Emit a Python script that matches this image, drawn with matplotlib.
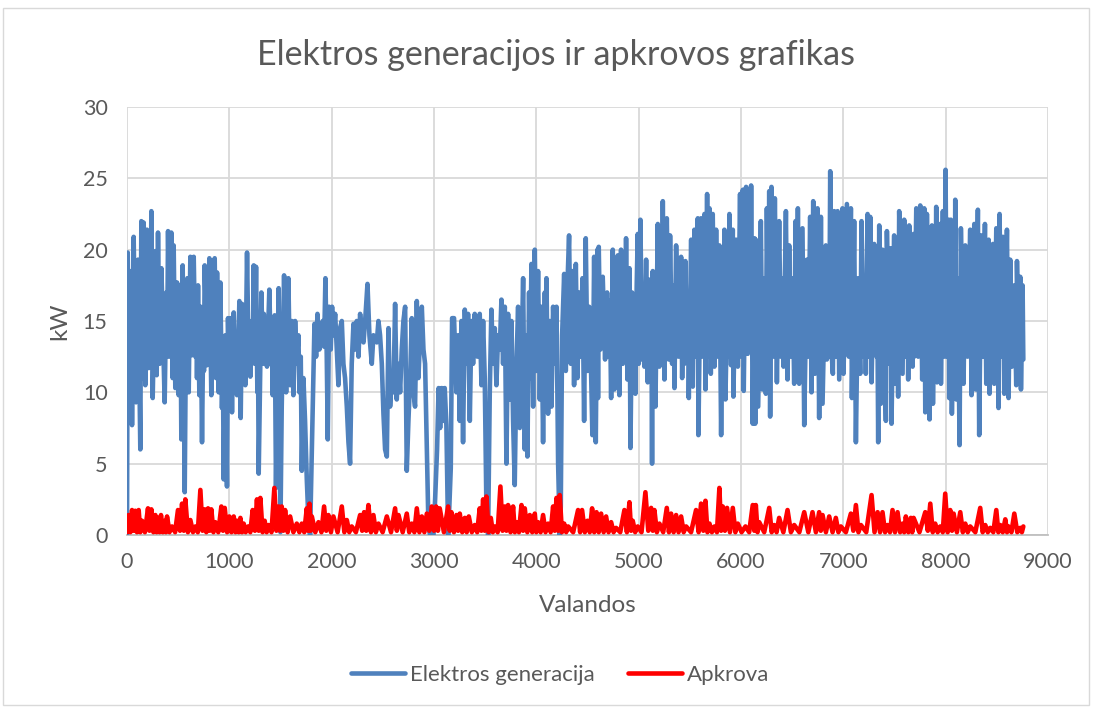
import matplotlib
matplotlib.use("Agg")
import matplotlib.pyplot as plt
from matplotlib.patches import Rectangle

# hourly generation (kW), peaks and troughs
gen_hours = [
    0, 7, 23, 39, 49, 65, 88, 107, 130, 140, 153, 163, 179, 195, 212, 228, 238, 251, 277, 290,
    303, 319, 336, 368, 384, 392, 401, 417, 433, 446, 456, 472, 489, 505, 521, 531, 544, 564, 577, 581,
    590, 603, 619, 635, 652, 668, 676, 684, 694, 707, 720, 733, 746, 752, 759, 782, 805, 824, 840, 848,
    857, 870, 880, 896, 912, 928, 937, 945, 961, 977, 987, 1000, 1010, 1026, 1043, 1059, 1067, 1075, 1091, 1098,
    1111, 1124, 1140, 1148, 1156, 1173, 1189, 1197, 1205, 1222, 1230, 1238, 1248, 1261, 1274, 1280, 1287, 1313, 1329, 1337,
    1345, 1358, 1368, 1391, 1407, 1415, 1424, 1433, 1443, 1456, 1469, 1482, 1499,
    1512, 1535, 1555, 1577, 1594, 1610, 1626, 1643, 1659, 1675, 1685, 1698, 1708, 1724, 1740, 1757, 1773, 1789, 1806, 1822,
    1832, 1848, 1861, 1880, 1893, 1913, 1926, 1939, 1952, 1962, 1975, 1991, 2004, 2017, 2034, 2050, 2066, 2082, 2099, 2115,
    2131, 2148, 2164, 2180, 2196, 2213, 2229, 2245, 2262, 2278, 2294, 2311, 2327, 2350, 2369, 2392, 2408, 2441, 2457, 2473,
    2490, 2506, 2522, 2539, 2555, 2571, 2587, 2604, 2620, 2636, 2653, 2669, 2685, 2701, 2718, 2734, 2750, 2767, 2783, 2799,
    2815, 2832, 2848, 2864, 2881, 2897, 2913, 2930, 2946, 2962, 2995, 3011, 3030, 3045, 3060, 3075, 3090, 3105, 3121, 3138,
    3150, 3164, 3177, 3196, 3219, 3235, 3252, 3268, 3284, 3301, 3317, 3333, 3350, 3366, 3382, 3398, 3424, 3447, 3464, 3480,
    3496, 3512, 3529, 3545, 3561, 3578, 3594, 3610, 3626, 3643, 3659, 3675, 3692, 3708, 3724, 3740, 3757, 3773, 3789, 3806,
    3822, 3838, 3855, 3871, 3887, 3903, 3913, 3929, 3940, 3952, 3969, 3985, 4001, 4017, 4034, 4050, 4066, 4083, 4091, 4099,
    4115, 4131, 4148, 4164, 4180, 4197, 4213, 4229, 4239, 4252, 4272, 4288, 4304, 4320, 4337, 4353, 4369, 4386, 4402, 4418,
    4434, 4451, 4467, 4483, 4500, 4516, 4532, 4548, 4565, 4581, 4597, 4603,
    4610, 4626, 4649, 4672, 4692, 4705, 4718, 4731, 4747, 4763, 4779, 4786, 4796, 4812, 4828, 4845, 4861, 4867, 4877, 4890,
    4910, 4920, 4936, 4952, 4962, 4968, 4981, 4991, 5001, 5017, 5034, 5043, 5056, 5073, 5089, 5105, 5118, 5125, 5131, 5138,
    5151, 5157, 5164, 5187, 5203, 5219, 5226, 5236, 5252, 5275, 5294, 5307, 5327, 5340, 5350, 5366, 5389, 5415, 5425, 5438,
    5447, 5457, 5470, 5480, 5490, 5513, 5529, 5545, 5561, 5578, 5584, 5610, 5627, 5643, 5653, 5669, 5679, 5692, 5705, 5724,
    5741, 5757, 5773, 5789, 5806, 5822, 5832, 5838, 5848, 5871, 5881, 5887, 5903, 5920, 5926, 5952, 5969, 5991, 6004, 6018,
    6027, 6050, 6066, 6083, 6089, 6099, 6115, 6132,
    6139, 6145, 6168, 6194, 6210, 6227, 6243, 6253, 6266, 6276, 6285, 6298, 6315, 6331, 6351, 6373, 6390, 6406, 6416, 6439,
    6455, 6471, 6487, 6504, 6520, 6533, 6546, 6556, 6569, 6601, 6618, 6644, 6660, 6676, 6689, 6706, 6722, 6748, 6764, 6781,
    6797, 6829, 6839, 6852, 6862, 6872, 6888, 6898, 6911, 6927, 6944, 6960, 6992, 7002, 7035, 7054, 7074, 7084, 7106, 7123,
    7145, 7165, 7178, 7198, 7211, 7220, 7237, 7250, 7263, 7276, 7302, 7325, 7331, 7341, 7351, 7367, 7383, 7416, 7426, 7448,
    7465, 7471, 7497, 7504, 7523, 7536, 7546, 7579, 7595, 7611, 7628, 7634, 7644, 7677, 7686,
    7693, 7713, 7732, 7752, 7771, 7791, 7801, 7817, 7833, 7843, 7866, 7876, 7889, 7898, 7908, 7915, 7931, 7941, 7947, 7954,
    7973, 7986, 7999, 8012, 8029, 8035, 8051, 8061, 8078, 8087, 8094, 8104, 8120, 8136, 8149, 8175, 8192, 8214, 8240, 8253,
    8280, 8293, 8315, 8328, 8348, 8364, 8384, 8397, 8420, 8429, 8462, 8475, 8495, 8517, 8527, 8543, 8560, 8573, 8599, 8615,
    8631, 8648, 8671, 8690, 8697, 8713, 8729, 8736, 8752, 8759,
]
gen_kw = [
    0.0, 19.8, 9.0, 18.5, 7.7, 20.9, 9.3, 19.3, 6.0, 22.0, 11.0, 21.9, 10.5, 21.4, 11.7, 13.0, 22.7, 9.6, 19.9, 11.2,
    21.2, 12.0, 18.7, 9.3, 17.0, 12.5, 21.3, 12.5, 21.2, 11.0, 20.3, 10.3, 17.7, 9.8, 17.5, 6.7, 18.9, 3.0, 15.0, 11.0,
    18.0, 10.0, 19.5, 12.6, 19.5, 12.5, 17.0, 11.0, 17.5, 9.8, 16.0, 6.5, 15.0, 11.5, 18.9, 11.9, 19.4, 9.8, 17.0, 12.0,
    19.4, 11.0, 18.4, 10.0, 17.7, 8.9, 12.0, 3.9, 14.0, 3.4, 15.2, 10.0, 15.2, 8.6, 15.6, 11.0, 14.0, 9.8, 14.0, 16.4,
    8.2, 16.2, 11.5, 15.0, 10.5, 19.8, 12.0, 15.0, 11.1, 15.0, 12.5, 18.9, 12.0, 18.8, 10.0, 13.0, 4.3, 17.0, 12.0, 15.5,
    12.6, 15.0, 11.8, 17.2, 12.0, 14.0, 9.8, 14.0, 15.4, 3.3, 11.0, 17.3, 0.2,
    9.0, 18.2, 10.0, 18.0, 10.5, 15.0, 9.8, 15.0, 12.0, 14.0, 10.0, 12.5, 4.5, 11.0, 8.0, 3.9, 1.0, 0.0, 6.0, 12.0,
    14.8, 12.5, 15.5, 13.0, 14.5, 15.0, 13.2, 18.0, 12.5, 6.7, 16.0, 13.0, 16.0, 14.0, 15.5, 13.0, 10.5, 14.5, 15.0, 12.0,
    11.0, 9.0, 6.5, 5.0, 12.0, 14.8, 13.0, 15.0, 12.5, 15.5, 14.0, 13.5, 15.0, 17.6, 14.0, 12.0, 14.0, 13.5, 15.0, 14.0,
    12.0, 8.5, 6.0, 5.5, 14.5, 9.0, 11.0, 10.0, 16.2, 9.5, 12.0, 10.0, 13.0, 15.0, 16.0, 4.5, 8.0, 11.0, 15.2, 10.0,
    9.0, 16.4, 11.0, 14.0, 16.0, 13.0, 12.0, 6.0, 0.5, 0.0, 0.0, 2.5, 6.0, 10.3, 7.5, 10.3, 8.0, 10.3, 7.7, 0.0,
    2.0, 4.7, 15.2, 15.2, 10.0, 14.0, 8.0, 15.0, 6.5, 15.8, 12.0, 15.5, 8.0, 15.0, 12.0, 15.5, 12.5, 15.5, 10.5, 15.0,
    11.0, 2.0, 0.0, 10.0, 15.8, 12.0, 14.5, 10.5, 14.0, 13.0, 16.5, 12.0, 16.0, 5.0, 15.5, 9.5, 15.0, 8.0, 3.5, 12.0,
    16.0, 7.5, 12.0, 18.0, 6.0, 14.0, 5.5, 17.0, 11.0, 19.0, 9.0, 20.0, 11.5, 18.5, 9.5, 16.0, 6.5, 17.0, 12.0, 18.0,
    8.5, 15.0, 9.0, 16.0, 12.0, 16.0, 5.0, 0.0, 2.0, 14.0, 18.3, 11.5, 17.5, 21.0, 12.0, 18.5, 10.5, 19.0, 11.0, 17.0,
    12.5, 18.0, 8.0, 20.8, 11.5, 16.0, 12.5, 7.0, 19.5, 6.5, 20.0, 9.6,
    20.2, 13.0, 18.1, 12.3, 17.0, 12.5, 16.4, 9.6, 20.0, 10.2, 18.0, 12.5, 19.6, 9.8, 20.0, 12.0, 17.5, 12.5, 20.8, 10.9,
    18.7, 6.1, 17.0, 12.0, 16.5, 9.9, 17.5, 21.1, 12.0, 22.1, 12.3, 16.5, 11.8, 19.3, 10.7, 17.9, 12.0, 15.0, 5.0, 18.5,
    12.0, 16.0, 9.0, 21.8, 11.8, 18.0, 12.5, 23.4, 10.9, 22.2, 12.3, 21.0, 12.0, 17.5, 10.3, 20.3, 12.5, 19.5, 11.0, 17.5,
    12.0, 19.2, 12.5, 17.0, 9.6, 20.7, 10.4, 21.4, 12.5, 22.2, 7.0, 22.2, 12.5, 22.5, 10.2, 23.9, 12.5, 22.9, 11.3, 22.5,
    11.8, 21.4, 12.5, 20.3, 7.0, 17.5, 12.0, 21.4, 9.5, 18.5, 12.5, 22.5, 11.9, 21.4, 9.7, 20.7, 11.8, 23.9, 12.5, 24.2,
    10.1, 24.4, 12.7, 19.0, 13.0, 24.5, 7.8, 20.8,
    7.8, 20.7, 9.0, 22.0, 10.2, 18.0, 9.9, 22.9, 13.0, 24.1, 8.3, 24.4, 12.5, 23.6, 10.7, 22.0, 12.5, 18.0, 11.8, 22.7,
    10.9, 20.3, 12.5, 18.0, 10.6, 22.0, 12.5, 22.9, 10.6, 21.5, 7.7, 19.3, 12.5, 22.3, 10.0, 23.4, 11.3, 22.9, 8.2, 22.3,
    9.2, 20.3, 12.3, 18.0, 12.5, 25.5, 12.5, 11.3, 22.7, 12.5, 22.7, 10.9, 22.9, 11.3, 23.2, 12.5, 22.9, 9.6, 22.0, 6.5,
    18.0, 11.3, 22.0, 12.5, 18.0, 11.3, 22.5, 12.5, 22.3, 10.7, 20.4, 12.5, 17.5, 6.5, 21.7, 9.2, 20.0, 8.0, 21.3, 12.0,
    20.1, 7.8, 21.0, 10.6, 18.0, 9.7, 22.7, 11.3, 22.1, 12.5, 18.0, 10.9, 21.7, 11.8, 21.1,
    12.5, 22.9, 12.5, 23.1, 10.9, 22.9, 8.6, 22.5, 12.5, 8.1, 21.7, 9.2, 18.0, 12.5, 23.0, 10.7, 18.0, 12.5, 21.8, 10.6,
    22.7, 12.5, 25.6, 12.5, 22.1, 9.6, 22.1, 8.5, 18.0, 12.5, 23.5, 9.5, 18.0, 6.3, 21.5, 10.6, 20.3, 12.5, 21.4, 9.8,
    21.8, 10.2, 22.8, 7.0, 21.0, 12.5, 21.8, 10.6, 20.7, 9.9, 20.4, 10.6, 21.5, 8.9, 22.5, 12.5, 20.9, 9.9, 21.4, 9.6,
    19.3, 11.8, 17.5, 10.5, 19.2, 12.5, 18.1, 10.2, 17.5, 12.3,
]

# hourly load (kW)
load_hours = [
    0, 16, 33, 49, 65, 81, 97, 114, 130, 147, 175, 205, 220, 238, 258, 277, 290, 303, 318, 332,
    350, 368, 380, 391, 415, 440, 470, 498, 518, 538, 555, 570, 595, 619, 645, 668, 692, 717, 738, 759,
    775, 792, 808, 824, 845, 863, 892, 922, 938, 955, 978, 1000, 1021, 1043, 1060, 1075, 1092, 1108, 1124, 1140,
    1160, 1183, 1205, 1228, 1250, 1270, 1287, 1303, 1325, 1345, 1365, 1384, 1412, 1440, 1460, 1482, 1497, 1512, 1528, 1545,
    1570, 1594, 1626, 1659, 1684, 1708, 1732, 1757, 1770, 1783, 1795, 1806, 1840, 1871, 1900, 1926, 1947, 1968, 1993, 2017,
    2058, 2099, 2124, 2148, 2172, 2196, 2237, 2278, 2298, 2317, 2338, 2359, 2384, 2408, 2432, 2457, 2498, 2539, 2580, 2620,
    2637, 2653, 2694, 2734, 2758, 2783, 2808, 2832, 2857, 2881, 2906, 2930, 2954, 2978, 3000, 3021, 3038, 3056, 3097, 3138,
    3154, 3170, 3195, 3219, 3236, 3252, 3276, 3301, 3320, 3340, 3370, 3398, 3422, 3447, 3463, 3480, 3496, 3512, 3534, 3555,
    3575, 3594, 3622, 3649, 3670, 3692, 3708, 3724, 3748, 3773, 3790, 3806, 3830, 3855, 3871, 3887, 3912, 3936, 3960, 3985,
    4000, 4017, 4042, 4066, 4090, 4115, 4140, 4164, 4180, 4197, 4213, 4229, 4250, 4272, 4292, 4311, 4360, 4408, 4428, 4447,
    4474, 4500, 4522, 4545, 4566, 4588, 4610, 4633, 4658, 4682, 4706, 4731, 4755, 4779, 4820, 4861, 4885, 4910, 4926, 4942,
    4966, 4991, 5028, 5066, 5094, 5122, 5138, 5154, 5178, 5203, 5240, 5275, 5296, 5317, 5342, 5366, 5390, 5415, 5440, 5464,
    5512, 5561, 5586, 5610, 5632, 5653, 5672, 5692, 5716, 5741, 5765, 5789, 5806, 5822, 5843, 5864, 5892, 5920, 5945, 5969,
    6006, 6044, 6080, 6115, 6130, 6145, 6162, 6178, 6227, 6276, 6300, 6324, 6348, 6373, 6414, 6455, 6488, 6520, 6570, 6618,
    6658, 6699, 6732, 6764, 6780, 6797, 6830, 6862, 6895, 6927, 6952, 6976, 7025, 7074, 7098, 7123, 7148, 7172, 7224, 7276,
    7305, 7335, 7359, 7383, 7408, 7432, 7456, 7481, 7505, 7530, 7555, 7579, 7595, 7611, 7636, 7660, 7674, 7687, 7744, 7801,
    7826, 7850, 7874, 7898, 7922, 7947, 7972, 7996, 8020, 8045, 8062, 8078, 8110, 8143, 8168, 8192, 8216, 8240, 8290, 8338,
    8362, 8387, 8412, 8436, 8466, 8495, 8515, 8534, 8558, 8583, 8600, 8615, 8643, 8671, 8700, 8729, 8745, 8759,
]
load_kw = [
    0.2, 1.4, 0.2, 1.75, 0.3, 1.7, 0.2, 1.75, 0.2, 1.0, 0.2, 1.87, 0.3, 1.8, 0.2, 1.4, 0.2, 1.2, 0.2, 1.4,
    0.2, 1.0, 0.2, 1.3, 0.2, 0.6, 0.2, 1.75, 0.3, 2.2, 0.3, 2.5, 0.2, 1.05, 0.2, 0.6, 0.2, 3.16, 0.3, 1.8,
    0.2, 1.87, 0.3, 1.8, 0.2, 0.9, 0.2, 2.0, 0.3, 1.9, 0.2, 1.3, 0.2, 1.3, 0.2, 1.0, 0.2, 1.2, 0.2, 0.8,
    0.2, 0.6, 0.2, 1.75, 0.3, 2.5, 0.3, 2.6, 0.2, 1.0, 0.2, 0.7, 0.2, 3.3, 0.3, 2.0, 0.3, 2.0, 0.3, 1.75,
    0.2, 1.3, 0.2, 0.8, 0.2, 0.8, 0.2, 1.87, 0.3, 2.2, 0.3, 1.3, 0.2, 0.9, 0.2, 2.0, 0.3, 1.4, 0.2, 1.3,
    0.2, 2.0, 0.2, 1.05, 0.2, 0.6, 0.2, 1.4, 0.3, 1.6, 0.3, 2.1, 0.2, 1.4, 0.2, 0.8, 0.2, 1.3, 0.2, 1.87,
    0.3, 1.4, 0.2, 1.5, 0.2, 0.8, 0.2, 1.87, 0.2, 1.3, 0.2, 1.5, 0.3, 2.0, 0.3, 2.0, 0.3, 1.87, 0.2, 2.0,
    0.3, 1.6, 0.2, 1.4, 0.3, 1.5, 0.2, 1.2, 0.2, 1.3, 0.2, 0.7, 0.2, 1.87, 0.3, 2.5, 0.3, 2.7, 0.2, 1.2,
    0.2, 0.6, 0.2, 3.4, 0.3, 2.0, 0.3, 2.1, 0.2, 2.0, 0.2, 0.9, 0.2, 2.1, 0.3, 1.87, 0.2, 1.4, 0.2, 1.5,
    0.2, 0.9, 0.2, 1.4, 0.2, 0.8, 0.2, 2.0, 0.3, 2.6, 0.3, 2.8, 0.2, 0.8, 0.2, 0.6, 0.2, 1.75, 0.2, 1.75,
    0.2, 1.0, 0.2, 1.87, 0.2, 1.6, 0.2, 1.5, 0.2, 1.3, 0.2, 0.9, 0.2, 0.5, 0.2, 1.75, 0.2, 2.3, 0.3, 1.0,
    0.2, 0.6, 0.2, 3.0, 0.3, 1.9, 0.3, 1.75, 0.2, 0.8, 0.2, 1.9, 0.2, 1.5, 0.2, 1.4, 0.2, 1.3, 0.2, 0.6,
    0.2, 1.75, 0.2, 2.2, 0.3, 2.4, 0.2, 0.8, 0.2, 0.6, 0.2, 3.3, 0.3, 2.0, 0.3, 1.9, 0.2, 1.9, 0.2, 0.8,
    0.2, 0.6, 0.2, 2.1, 0.3, 2.1, 0.2, 0.9, 0.2, 1.9, 0.2, 0.7, 0.2, 1.2, 0.2, 1.75, 0.2, 0.7, 0.2, 1.6,
    0.2, 1.6, 0.2, 1.6, 0.3, 1.4, 0.2, 1.3, 0.2, 1.2, 0.2, 0.6, 0.2, 1.5, 0.3, 2.1, 0.2, 0.7, 0.2, 2.8,
    0.2, 1.6, 0.2, 1.6, 0.2, 0.7, 0.2, 1.75, 0.2, 1.6, 0.2, 0.8, 0.2, 1.3, 0.2, 1.2, 0.2, 1.2, 0.2, 1.6,
    0.3, 2.2, 0.2, 0.8, 0.2, 0.6, 0.2, 2.9, 0.2, 1.75, 0.3, 1.5, 0.2, 1.6, 0.2, 0.8, 0.2, 0.6, 0.2, 1.9,
    0.2, 0.7, 0.2, 0.5, 0.2, 1.75, 0.2, 0.7, 0.2, 1.1, 0.2, 0.6, 0.2, 1.5, 0.2, 0.5, 0.2, 0.6,
]

x_ticks = [0, 1000, 2000, 3000, 4000, 5000, 6000, 7000, 8000, 9000]
y_ticks = [0, 5, 10, 15, 20, 25, 30]

txt = '#595959'
plt.rcParams['font.family'] = ['Lato', 'DejaVu Sans']

fig = plt.figure(figsize=(10.93, 7.09), dpi=100)
fig.patches.append(Rectangle((0.003, 0.006), 0.993, 0.983, transform=fig.transFigure,
                             fill=False, edgecolor='#d9d9d9', lw=1.0))

ax = fig.add_axes([0.1162, 0.2454, 0.8426, 0.6037])
ax.plot(gen_hours, gen_kw, color='#4f81bd', lw=3.3, solid_joinstyle='round',
        solid_capstyle='round', label='Elektros generacija', zorder=3)
ax.plot(load_hours, load_kw, color='#ff0000', lw=3.3, solid_joinstyle='round',
        solid_capstyle='round', label='Apkrova', zorder=4)

ax.set_xlim(0, 9000)
ax.set_ylim(0, 30)
ax.set_xticks(x_ticks)
ax.set_yticks(y_ticks)
ax.grid(True, color='#d9d9d9', lw=1.3)
ax.set_axisbelow(True)
for s in ['top', 'right', 'left']:
    ax.spines[s].set_visible(False)
ax.spines['bottom'].set_color('#bfbfbf')
ax.spines['bottom'].set_linewidth(1.3)
ax.tick_params(length=0, labelsize=15.5, colors=txt)
ax.tick_params(axis='x', pad=12)
ax.tick_params(axis='y', pad=14)

fig.text(556 / 1093, 1 - 55 / 709, 'Elektros generacijos ir apkrovos grafikas',
         ha='center', va='center', fontsize=24.5, color=txt)
fig.text(60 / 1093, 1 - 321 / 709, 'kW', rotation=90, ha='center', va='center',
         fontsize=17.5, color=txt)
fig.text(588 / 1093, 1 - 605 / 709, 'Valandos', ha='center', va='center',
         fontsize=17.5, color=txt)

leg = fig.legend(loc='center', bbox_to_anchor=(560 / 1093, 1 - 675 / 709), ncol=2,
                 frameon=False, fontsize=16, handlelength=2.45, handletextpad=0.2,
                 columnspacing=1.5)
for t in leg.get_texts():
    t.set_color(txt)

fig.savefig('out.png', dpi=100)
